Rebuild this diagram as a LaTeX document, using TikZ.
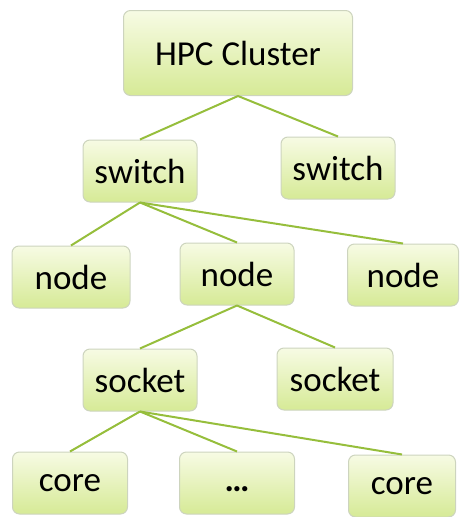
\documentclass[tikz,border=0pt]{standalone}
\usepackage{fontspec}
\setmainfont{Carlito}
\usetikzlibrary{positioning}

\definecolor{boxtop}{RGB}{247,251,228}
\definecolor{boxbot}{RGB}{214,234,150}
\definecolor{boxline}{RGB}{205,212,190}
\definecolor{linkgreen}{RGB}{150,190,60}

\begin{document}
\begin{tikzpicture}[x=1pt, y=-1pt,
        box style/.style={draw=boxline, line width=1pt, rounded corners=7pt,
            top color=boxtop, bottom color=boxbot,
            minimum width=114pt, minimum height=62pt,
            font=\fontsize{35}{40}\selectfont, text=black, inner sep=0pt},
        link/.style={draw=linkgreen, line width=2pt},
    ]
        \useasboundingbox (0,0) rectangle (462,517);

        % Root
        \node[box style, minimum width=229pt, minimum height=85pt] (cluster) at (238, 53) {HPC Cluster};

        % Switches
        \node[box style] (switchA) at (140, 171) {switch};
        \node[box style] (switchB) at (338, 168) {switch};

        % Nodes
        \node[box style, minimum width=118pt] (nodeA) at (71, 277) {node};
        \node[box style] (nodeB) at (237, 274) {node};
        \node[box style, minimum width=111pt] (nodeC) at (403, 275) {node};

        % Sockets
        \node[box style] (socketA) at (140, 380) {socket};
        \node[box style, minimum width=116pt] (socketB) at (335, 379) {socket};

        % Cores
        \node[box style, minimum width=115pt] (coreA) at (70, 483) {core};
        \node[box style, minimum width=115pt] (coreB) at (237, 483) {\vphantom{core}\textbf{\dots}};
        \node[box style, minimum width=107pt] (coreC) at (402, 486) {core};

        % Links
        \draw[link] (cluster.south) -- (switchA.north);
        \draw[link] (cluster.south) -- (switchB.north);
        \draw[link] (switchA.south) -- (nodeA.north);
        \draw[link] (switchA.south) -- (nodeB.north);
        \draw[link] (switchA.south) -- (nodeC.north);
        \draw[link] (nodeB.south) -- (socketA.north);
        \draw[link] (nodeB.south) -- (socketB.north);
        \draw[link] (socketA.south) -- (coreA.north);
        \draw[link] (socketA.south) -- (coreB.north);
        \draw[link] (socketA.south) -- (coreC.north);
    \end{tikzpicture}
\end{document}
